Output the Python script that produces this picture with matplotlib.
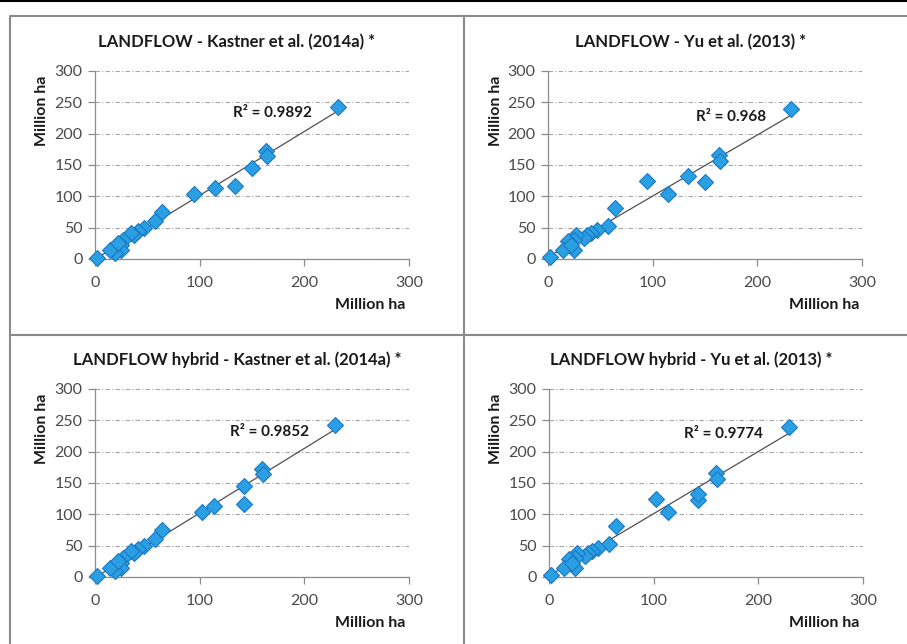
import numpy as np
import matplotlib
matplotlib.use("Agg")
import matplotlib.pyplot as plt
from matplotlib.lines import Line2D

plt.rcParams['font.family'] = ['Lato', 'DejaVu Sans']

# one entry per country
landflow_x = [1.6, 232, 163, 164, 150, 134, 115, 95, 64, 57, 47, 41, 37, 34, 27, 25, 25, 19, 14, 22]
hybrid_x = [2.2, 229, 159.5, 160.5, 142, 142, 114, 102, 64, 57, 47, 41, 37, 34, 27, 25, 25, 19, 14, 22]
kastner_y = [1, 243, 173, 164, 146, 117, 113, 104, 75, 61, 50, 44, 38, 41, 30, 22, 15, 10, 15, 25]
yu_y = [2.7, 240, 166, 157, 123, 133, 103, 125, 81, 52, 46, 42, 38, 33, 38, 30, 15, 28, 14, 22]

titles = ["LANDFLOW - Kastner et al. (2014a) *", "LANDFLOW - Yu et al. (2013) *",
          "LANDFLOW hybrid - Kastner et al. (2014a) *", "LANDFLOW hybrid - Yu et al. (2013) *"]
r2_labels = ["R\u00b2 = 0.9892", "R\u00b2 = 0.968", "R\u00b2 = 0.9852", "R\u00b2 = 0.9774"]
ticks = [0, 50, 100, 150, 200, 250, 300]

W, H = 907, 644
fig = plt.figure(figsize=(W / 100, H / 100), dpi=100)


def px(x, y):
    return x / W, 1 - y / H


# table frame
fig.add_artist(Line2D([0, 1], [1 - 0.8 / H] * 2, color="black", lw=1.5))
fig.add_artist(Line2D([10 / W, 10 / W, 1], [0, 1 - 16 / H, 1 - 16 / H], color="#8a8a8a", lw=1.5))
fig.add_artist(Line2D([464 / W] * 2, [0, 1 - 16 / H], color="#8a8a8a", lw=1.5))
fig.add_artist(Line2D([10 / W, 1], [1 - 335 / H] * 2, color="#8a8a8a", lw=1.5))

panels = [
    (landflow_x, kastner_y, 95, 71, 0, 0, (170, 233)),
    (landflow_x, yu_y, 548, 71, 454, 0, (175, 227)),
    (hybrid_x, kastner_y, 95, 389, 0, 318, (167, 231)),
    (hybrid_x, yu_y, 549, 389, 454, 318, (167, 228)),
]

for i, (xs, ys, left, top, dx, dy, r2pos) in enumerate(panels):
    ax = fig.add_axes([left / W, 1 - (top + 188) / H, 314 / W, 188 / H])
    xs = np.array(xs)
    ys = np.array(ys)
    ax.set_xlim(0, 300)
    ax.set_ylim(0, 300)
    ax.set_xticks(ticks[::2])
    ax.set_yticks(ticks)
    ax.grid(axis="y", color="#a6a6a6", linestyle=(0, (4, 2, 1, 2)), lw=0.8)
    ax.set_axisbelow(True)
    for s in ["top", "right"]:
        ax.spines[s].set_visible(False)
    for s in ["left", "bottom"]:
        ax.spines[s].set_color("#8c8c8c")
        ax.spines[s].set_linewidth(0.9)
    ax.tick_params(colors="#8c8c8c", labelcolor="#4a4a4a", labelsize=11.5, length=5, width=0.9)
    ax.tick_params(axis="x", pad=7)
    ax.tick_params(axis="y", pad=4)

    a, b = np.polyfit(xs, ys, 1)
    xl = np.array([xs.min(), xs.max()])
    ax.plot(xl, a * xl + b, color="#505050", lw=0.9, zorder=2)
    ax.plot(xs, ys, "D", ms=8, mfc="#2a9fe3", mec="#1b78c0", mew=0.8, zorder=3, clip_on=False)
    ax.text(r2pos[0], r2pos[1], r2_labels[i], ha="center", va="center", fontsize=11,
            fontweight="bold", color="#1a1a1a")

    fig.text(*px(237 + dx, 42 + dy), titles[i], ha="center", va="center", fontsize=12,
             fontweight="bold", color="#1a1a1a")
    fig.text(*px(42 + dx, 111 + dy), "Million ha", ha="center", va="center", rotation=90,
             fontsize=11.5, fontweight="bold", color="#1a1a1a")
    fig.text(*px(370 + dx, 305 + dy), "Million ha", ha="center", va="center",
             fontsize=11.5, fontweight="bold", color="#1a1a1a")

fig.savefig("out.png", dpi=100)
